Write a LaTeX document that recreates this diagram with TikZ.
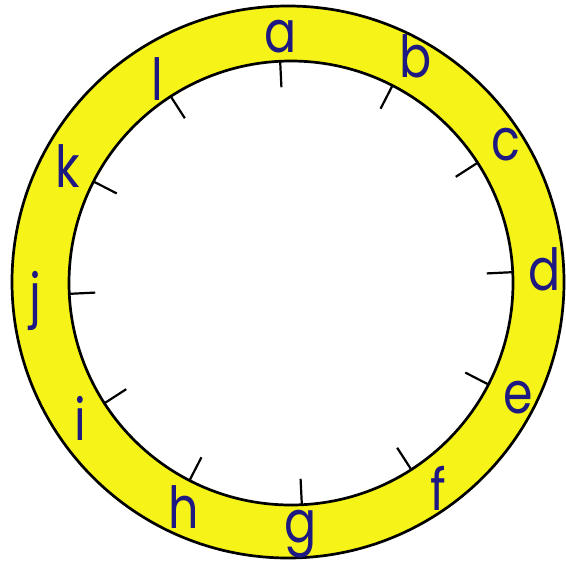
\documentclass[tikz,border=0pt]{standalone}
\usepackage{fontspec}
\setmainfont[FakeStretch=0.82]{Poppins}
\definecolor{ringyellow}{RGB}{246,243,24}
\definecolor{letterblue}{RGB}{30,24,130}
\begin{document}
\begin{tikzpicture}[x=1pt,y=-1pt,
  lbl/.style={anchor=base,inner sep=0pt,text=letterblue,font=\fontsize{58}{58}\selectfont},
  ringline/.style={draw=black,line width=2.7pt},
  tickline/.style={draw=black,line width=2.2pt}]
\useasboundingbox (0,0) rectangle (566,563);
\coordinate (O) at (288,282);
\coordinate (C) at (291,283);
\fill[ringyellow,even odd rule] (O) circle[radius=276] (C) circle[radius=222];
\draw[ringline] (O) circle[radius=276];
\draw[ringline] (C) circle[radius=222];
\foreach \k in {0,...,11}{
  \pgfmathsetmacro\t{92.8-30*\k}
  \draw[tickline,shift={(C)}] ({222*cos(\t)},{-222*sin(\t)}) -- ({196*cos(\t)},{-196*sin(\t)});
}
\node[lbl] (la) at (281,52) {a};
\node[lbl] (lb) at (416,77) {b};
\node[lbl] (lc) at (506,160) {c};
\node[lbl] (ld) at (545,290) {d};
\node[lbl] (le) at (518,413) {e};
\node[lbl] (lf) at (438,510) {f};
\node[lbl] (lg) at (301,542) {g};
\node[lbl] (lh) at (184,528) {h};
\node[lbl] (li) at (80,440) {i};
\node[lbl] (lj) at (35,315) {j};
\node[lbl] (lk) at (68,187) {k};
\node[lbl] (ll) at (157,100) {l};
\end{tikzpicture}
\end{document}
